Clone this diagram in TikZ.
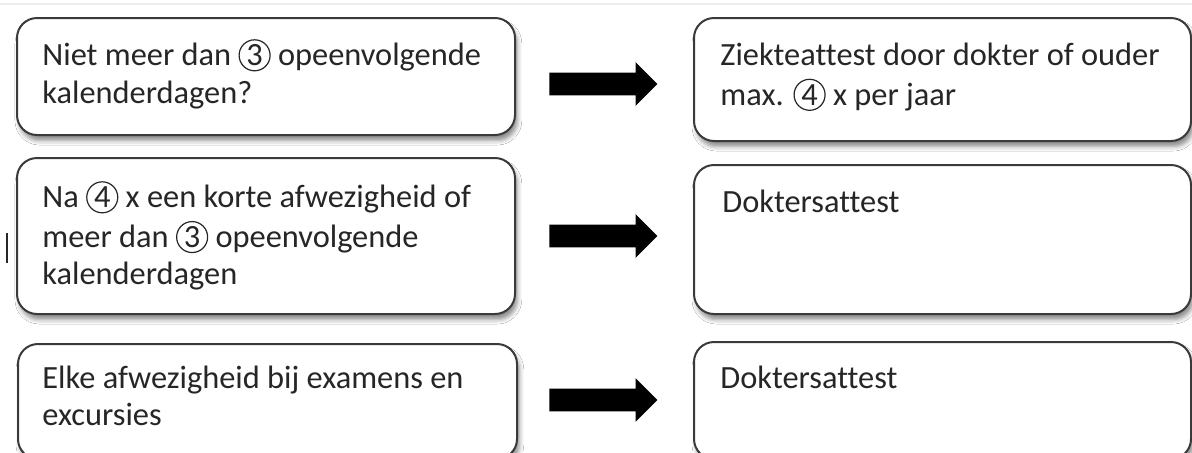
\documentclass[tikz,border=0pt]{standalone}
\usepackage{fontspec}
\setmainfont{Carlito}[Ligatures=NoCommon]
\usetikzlibrary{positioning,shapes.arrows,shadows.blur}

\definecolor{boxline}{HTML}{3A3A3A}
\definecolor{boxtext}{HTML}{262626}

\tikzset{
  box/.style={draw=boxline,line width=1pt,rounded corners=10pt,fill=white,anchor=north west,inner sep=0pt,
    blur shadow={shadow xshift=1.2pt,shadow yshift=-2.8pt,shadow blur radius=2.2pt,shadow opacity=45}},
  boxlabel/.style={anchor=north west,inner sep=0pt,align=left,text=boxtext,font=\fontsize{16.2}{18.75}\selectfont},
  blockarrow/.style={single arrow,fill=black,draw=none,anchor=tail,minimum height=54pt,inner sep=0pt,inner ysep=5.5pt,single arrow head extend=5.25pt},
  numring/.style={draw=boxtext,circle,line width=.6pt,inner sep=0pt,minimum size=15.5pt}
}
\newcommand{\ringnum}[1]{\tikz[baseline=(ring.base)]\node[numring] (ring) {#1};}

\begin{document}
\begin{tikzpicture}[x=0.5pt,y=-0.5pt]

%Page and the faint line on top
\fill[white] (0,0) rectangle (1192,452);
\useasboundingbox (0,0) rectangle (1192,452);
\draw[black!7,line width=1pt] (0,4) -- (1192,4);

%The six boxes - name/left/top/width/height
\foreach \n/\x/\y/\w/\h in {lbox1/16/17/498/117,lbox2/16/157/498/156,lbox3/17/343/499/115,rbox1/693/17/497/123,rbox2/693/164/497/149,rbox3/693/341/497/117}
  \node[box,minimum width=\w*0.5pt,minimum height=\h*0.5pt] (\n) at (\x,\y) {};

%Texts in the boxes
\node[boxlabel,below right=10.9pt and 13pt of lbox1.north west] (ltext1) {\strut Niet meer dan \ringnum{3} opeenvolgende\\kalenderdagen?};
\node[boxlabel,below right=11.9pt and 13pt of lbox2.north west] (ltext2) {\strut Na \ringnum{4} x een korte afwezigheid of\\meer dan \ringnum{3} opeenvolgende\\kalenderdagen};
\node[boxlabel,below right=9.4pt and 12.5pt of lbox3.north west] (ltext3) {\strut Elke afwezigheid bij examens en\\excursies};
\node[boxlabel,below right=10.9pt and 13.5pt of rbox1.north west] (rtext1) {\strut Ziekteattest door dokter of ouder\\max. \ringnum{4} x per jaar};
\node[boxlabel,below right=10.9pt and 14.5pt of rbox2.north west] (rtext2) {\strut Doktersattest};
\node[boxlabel,below right=10.4pt and 13.5pt of rbox3.north west] (rtext3) {\strut Doktersattest};

%Block arrows between the columns
\foreach \y/\n in {84/1,236/2,400/3} \node[blockarrow] (arrow\n) at (549,\y) {};

%Stray cursor mark
\draw[boxtext,line width=1pt] (7,233) -- (7,263);

\end{tikzpicture}
\end{document}
